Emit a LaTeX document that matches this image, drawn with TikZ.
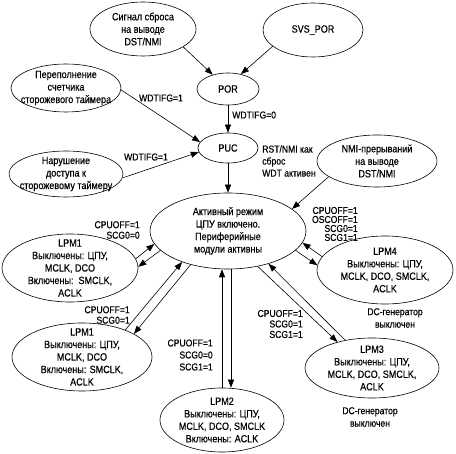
\documentclass[tikz,border=0pt]{standalone}
\usepackage{fontspec}
\setmainfont{Liberation Sans}[FakeStretch=0.86, FakeBold=0.4]
\usepackage{tikz}
\usetikzlibrary{shapes.geometric, arrows.meta, positioning}
\tikzset{
  st/.style={draw, ellipse, inner sep=-12pt, align=center, font=\fontsize{10.5}{12.5}\selectfont},
  lbl/.style={inner sep=0pt, align=right, font=\fontsize{10}{10.5}\selectfont},
  arr/.style={-{Triangle[length=8pt, width=6pt]}, line width=0.6pt},
}

\begin{document}
\begin{tikzpicture}[x=1pt, y=-1pt, line width=0.6pt]
  \useasboundingbox (0,0) rectangle (456,454);
  \node[st, minimum width=106pt, minimum height=54pt] (sig) at (143,29) {Сигнал сброса\\на выводе\\DST/NMI};
  \node[st, minimum width=100pt, minimum height=54pt] (svs) at (313,30) {SVS\_POR};
  \node[st, minimum width=62pt, minimum height=32pt] (por) at (228,89) {POR};
  \node[st, minimum width=110pt, minimum height=48pt] (ovf) at (66,88) {Переполнение\\счетчика\\сторожевого таймера};
  \node[st, minimum width=60pt, minimum height=30pt] (puc) at (228,148) {PUC};
  \node[st, minimum width=114pt, minimum height=46pt] (wdv) at (66,174) {Нарушение\\доступа к\\сторожевому таймеру};
  \node[st, minimum width=120pt, minimum height=52pt] (nmi) at (377,161) {NMI-прерываний\\на выводе\\DST/NMI};
  \node[st, minimum width=156pt, minimum height=76pt] (act) at (228,231) {Активный режим\\ЦПУ включено.\\Периферийные\\модули активны};
  \node[st, minimum width=136pt, minimum height=68pt] (lpm1a) at (70,268) {LPM1\\Выключены: ЦПУ,\\MCLK, DCO\\Включены:\ \ SMCLK,\\ACLK};
  \node[st, minimum width=140pt, minimum height=68pt] (lpm1b) at (82,357) {LPM1\\Выключены: ЦПУ,\\MCLK, DCO\\Включены: SMCLK,\\ACLK};
  \node[st, minimum width=124pt, minimum height=64pt] (lpm2) at (222,420) {LPM2\\Выключены: ЦПУ,\\MCLK, DCO, SMCLK\\Включены: ACLK};
  \node[st, minimum width=134pt, minimum height=60pt] (lpm3) at (372,368) {LPM3\\Выключены: ЦПУ,\\MCLK, DCO, SMCLK,\\ACLK};
  \node[st, minimum width=136pt, minimum height=68pt] (lpm4) at (385,270) {LPM4\\Выключены: ЦПУ,\\MCLK, DCO, SMCLK,\\ACLK};

  \node[lbl, anchor=west] (l0) at (232,115) {WDTIFG=0};
  \node[lbl] (l1) at (161,98) {WDTIFG=1};
  \node[lbl] (l2) at (146,157) {WDTIFG=1};
  \node[lbl, anchor=west, align=left, font=\fontsize{10}{12}\selectfont] (rst) at (262,161) {RST/NMI как\\сброс\\WDT активен};
  \node[lbl, anchor=east, font=\fontsize{10}{9}\selectfont] (l4) at (358,224) {CPUOFF=1\\OSCOFF=1\\SCG0=1\\SCG1=1};
  \node[lbl, anchor=east] (l1a) at (140,230) {CPUOFF=1\\SCG0=0};
  \node[lbl, anchor=east] (l1b) at (130,315) {CPUOFF=1\\SCG0=1};
  \node[lbl, anchor=east, font=\fontsize{10}{12}\selectfont] (l2b) at (213,355) {CPUOFF=1\\SCG0=0\\SCG1=1};
  \node[lbl, anchor=east] (l3) at (303,324) {CPUOFF=1\\SCG0=1\\SCG1=1};
  \node[lbl, align=center, font=\fontsize{10}{12.5}\selectfont] (dc4) at (395,318) {DC-генератор\\выключен};
  \node[lbl, align=center, font=\fontsize{10}{12.5}\selectfont] (dc3) at (370,417) {DC-генератор\\выключен};

  \draw[arr] (sig.-24) -- (por.137);
  \draw[arr] (svs.202) -- (por.49);
  \draw[arr] (por.south) -- (puc.north);
  \draw[arr] (ovf.-2) -- (puc.168);
  \draw[arr] (wdv.-4) -- (puc.188);
  \draw[arr] (puc.south) -- (act.north);
  \draw[arr] (nmi.198) -- (act.19);
  \draw[arr] (lpm4.168) -- (act.-9);
  \draw[arr] (act.-16) -- (lpm4.176);
  \draw[arr] (lpm1a.8) -- (act.190);
  \draw[arr] (act.196) -- (lpm1a.1);
  \draw[arr] (lpm1b.32) -- (act.214);
  \draw[arr] (act.222) -- (lpm1b.24);
  \draw[arr] (lpm2.north) -- (lpm2.north |- act.south);
  \draw[arr] ([xshift=3pt]act.south) -- ([xshift=3pt]act.south |- lpm2.north);
  \draw[arr] (act.-50) -- (lpm3.143);
  \draw[arr] (lpm3.134) -- (act.-39);
\end{tikzpicture}
\end{document}
